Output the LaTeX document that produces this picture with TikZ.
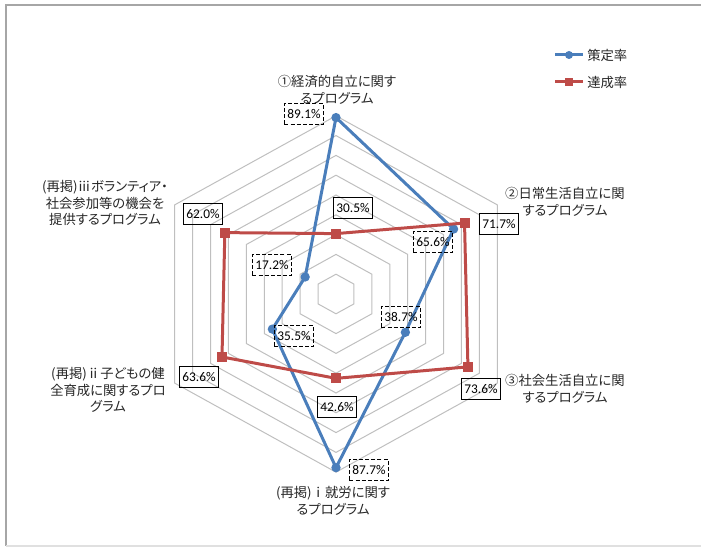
\documentclass[tikz,border=0pt]{standalone}
\usepackage{fontspec}
\setmainfont{Noto Sans CJK JP}[RawFeature=+palt]
\newfontfamily\numfont{Carlito}
\usepackage{tikz}

\definecolor{seriesblue}{RGB}{74,126,187}
\definecolor{seriesred}{RGB}{190,75,72}
\definecolor{gridgray}{RGB}{191,191,191}
\definecolor{framegray}{RGB}{166,166,166}

\begin{document}
\begin{tikzpicture}[x=0.75pt, y=0.75pt, font=\fontsize{10pt}{12.5pt}\selectfont]
\tikzstyle{gridline} = [draw=gridgray, line width=0.75pt]
\tikzstyle{blueline} = [draw=seriesblue, line width=2.25pt, line join=round]
\tikzstyle{redline} = [draw=seriesred, line width=2.25pt, line join=round]
\tikzstyle{bluept} = [circle, fill=seriesblue, inner sep=0pt, minimum size=7pt]
\tikzstyle{redpt} = [rectangle, fill=seriesred, inner sep=0pt, minimum size=7.5pt]
\tikzstyle{valbox} = [draw=black, line width=1pt, inner xsep=2.2pt, inner ysep=0pt, minimum height=16pt, font=\numfont\fontsize{10pt}{11pt}\selectfont]
\tikzstyle{bluebox} = [valbox, dash pattern=on 3pt off 1.6pt]
\tikzstyle{redbox} = [valbox]
\tikzstyle{axislabel} = [align=center, inner sep=0pt, text=black!85]

\useasboundingbox (0,0) rectangle (701,547);
\draw[draw=framegray, line width=1.2pt] (701,542) -- (6,542) -- (6,1);
\draw[draw=black!12, line width=1pt] (6,1) -- (701,1);

% radar grid and data points
\begin{scope}[shift={(336,253)}, x=155.25pt, y=148.5pt]
\foreach \k in {1,...,9}
  \draw[gridline] (90:{\k/10}) -- (30:{\k/10}) -- (-30:{\k/10}) -- (-90:{\k/10}) -- (-150:{\k/10}) -- (150:{\k/10}) -- cycle;
\foreach \ang/\val/\n in {90/0.891/1, 30/0.656/2, -30/0.387/3, -90/0.877/4, -150/0.355/5, 150/0.172/6}
  \coordinate (b\n) at (\ang:\val);
\foreach \ang/\val/\n in {90/0.305/1, 30/0.717/2, -30/0.736/3, -90/0.426/4, -150/0.636/5, 150/0.620/6}
  \coordinate (r\n) at (\ang:\val);
\end{scope}

\draw[blueline] (b1) -- (b2) -- (b3) -- (b4) -- (b5) -- (b6) -- cycle;
\foreach \n in {1,...,6}
  \node[bluept] (bm\n) at (b\n) {};
\draw[redline] (r1) -- (r2) -- (r3) -- (r4) -- (r5) -- (r6) -- cycle;
\foreach \n in {1,...,6}
  \node[redpt] (rm\n) at (r\n) {};

\node[bluebox] (lb1) at (304,433) {89.1\%};
\node[bluebox] (lb2) at (433,305) {65.6\%};
\node[bluebox] (lb3) at (401,230) {38.7\%};
\node[bluebox] (lb4) at (369,77) {87.7\%};
\node[bluebox] (lb5) at (294,211) {35.5\%};
\node[bluebox] (lb6) at (272,282) {17.2\%};

\node[redbox] (lr1) at (353,339) {30.5\%};
\node[redbox] (lr2) at (499,323) {71.7\%};
\node[redbox] (lr3) at (481,158) {73.6\%};
\node[redbox] (lr4) at (337,140) {42.6\%};
\node[redbox] (lr5) at (199,170) {63.6\%};
\node[redbox] (lr6) at (203,333) {62.0\%};

\node[axislabel] (ax1) at (337,457) {①経済的自立に関す\\るプログラム};
\node[axislabel] (ax2) at (565,345) {②日常生活自立に関\\するプログラム};
\node[axislabel] (ax3) at (565,158) {③社会生活自立に関\\するプログラム};
\node[axislabel] (ax4) at (333,46) {(再掲)ⅰ就労に関す\\るプログラム};
\node[axislabel] (ax5) at (108,157) {(再掲)ⅱ子どもの健\\全育成に関するプロ\\グラム};
\node[axislabel] (ax6) at (105,344) {(再掲)ⅲボランティア・\\社会参加等の機会を\\提供するプログラム};

% legend
\coordinate (lgb1) at (555,492);
\coordinate (lgb2) at (583,492);
\draw[blueline] (lgb1) -- (lgb2);
\node[bluept, minimum size=6pt] (lgbm) at (569,492) {};
\node[axislabel, anchor=west] (lgbt) at (587,492) {策定率};
\coordinate (lgr1) at (555,465);
\coordinate (lgr2) at (583,465);
\draw[redline] (lgr1) -- (lgr2);
\node[redpt, minimum size=6.5pt] (lgrm) at (569,465) {};
\node[axislabel, anchor=west] (lgrt) at (587,465) {達成率};
\end{tikzpicture}
\end{document}
